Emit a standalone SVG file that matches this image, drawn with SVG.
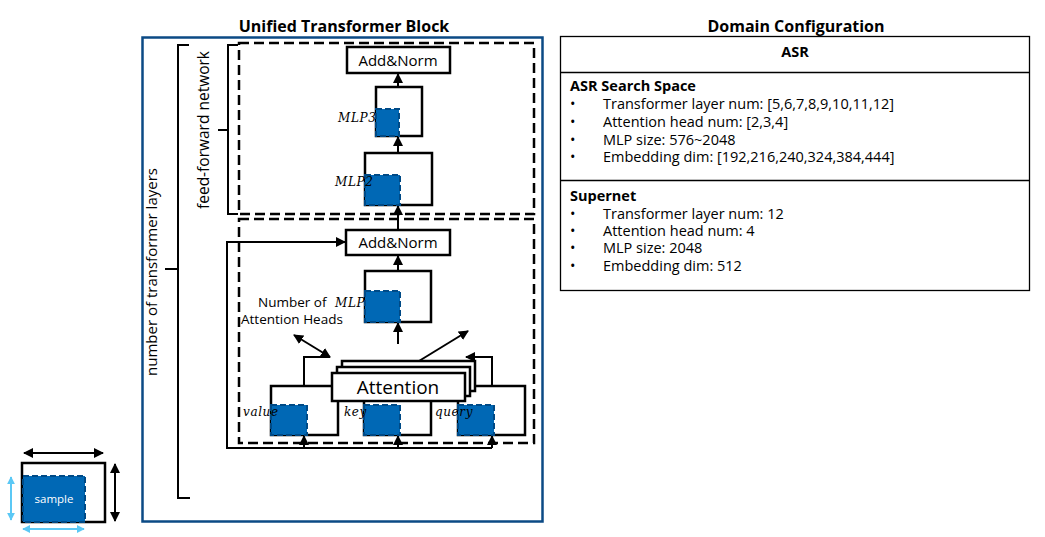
<svg xmlns="http://www.w3.org/2000/svg" width="1045" height="537" viewBox="0 0 1045 537">
<style>
text{font-family:"Open Sans","Liberation Sans",sans-serif;fill:#000}
.title{font-weight:bold;font-size:16px;text-anchor:middle}
.t{font-size:14.5px}
.b{font-weight:bold}
.box{fill:#fff;stroke:#000;stroke-width:2.5}
.blue{fill:#0068b5;stroke:#004a86;stroke-width:2;stroke-dasharray:6 3}
.dash{fill:none;stroke:#000;stroke-width:2.5;stroke-dasharray:10 5}
.ln{fill:none;stroke:#000;stroke-width:2}
.math{font-family:"DejaVu Serif","Liberation Serif",serif;font-style:italic;font-size:12px;letter-spacing:0.6px}
.cen{text-anchor:middle}
</style>
<defs>
<marker id="ah" viewBox="0 0 10 10" refX="9" refY="5" markerWidth="5" markerHeight="5" orient="auto-start-reverse" markerUnits="strokeWidth"><path d="M0,0 L10,5 L0,10 z" fill="#000"/></marker>
<marker id="ahl" viewBox="0 0 10 10" refX="9" refY="5" markerWidth="4" markerHeight="4" orient="auto-start-reverse" markerUnits="strokeWidth"><path d="M0,0 L10,5 L0,10 z" fill="#5bc8f5"/></marker>
</defs>
<rect width="1045" height="537" fill="#fff"/>

<text class="title" x="344" y="32">Unified Transformer Block</text>
<text class="title" x="796" y="32">Domain Configuration</text>

<g id="outer-block">
<rect x="142.5" y="37.5" width="400" height="484" fill="none" stroke="#0b4a85" stroke-width="2.5"/>
</g>

<g id="braces">
<path class="ln" d="M189,45 H178 V269 H165 M178,269 V498 H190"/>
<path class="ln" d="M238,45 H228 V130 H218 M228,130 V214 H238"/>
<text transform="translate(157,272) rotate(-90)" text-anchor="middle" font-size="15">number of  transformer layers</text>
<text transform="translate(209,130) rotate(-90)" text-anchor="middle" font-size="15.5">feed-forward network</text>
</g>

<g id="ffn-region"><rect class="dash" x="239" y="43" width="295" height="171"/></g>
<g id="attn-region"><rect class="dash" x="239" y="219" width="295" height="224"/></g>

<g id="connectors">
<line class="ln" x1="398" y1="87" x2="398" y2="74" marker-end="url(#ah)"/>
<line class="ln" x1="398" y1="153" x2="398" y2="137" marker-end="url(#ah)"/>
<line class="ln" x1="398" y1="230" x2="398" y2="206" marker-end="url(#ah)"/>
<line class="ln" x1="398" y1="271" x2="398" y2="256" marker-end="url(#ah)"/>
<line class="ln" x1="398" y1="344" x2="398" y2="323" marker-end="url(#ah)"/>
<path class="ln" d="M492,448 H227 V242 H345" marker-end="url(#ah)"/>
<line class="ln" x1="304" y1="448" x2="304" y2="436" marker-end="url(#ah)"/>
<line class="ln" x1="398" y1="448" x2="398" y2="436" marker-end="url(#ah)"/>
<line class="ln" x1="492" y1="448" x2="492" y2="436" marker-end="url(#ah)"/>
<path class="ln" d="M304,386 V357 H330"/>
<path class="ln" d="M492,386 V357 H466" marker-end="url(#ah)"/>
<line class="ln" x1="294" y1="335" x2="330" y2="357" marker-start="url(#ah)" marker-end="url(#ah)"/>
<line class="ln" x1="419" y1="361" x2="468" y2="331" marker-end="url(#ah)"/>
</g>

<g id="add-norm-top">
<rect class="box" x="347" y="47" width="103" height="26"/>
<text class="cen" font-size="15" x="398" y="65.5">Add&amp;Norm</text>
</g>
<g id="mlp3">
<rect class="box" x="376" y="87" width="46" height="49"/>
<rect class="blue" x="376" y="109" width="23" height="27"/>
<text class="math" x="338" y="122">MLP3</text>
</g>
<g id="mlp2">
<rect class="box" x="365" y="153" width="67" height="52"/>
<rect class="blue" x="365" y="175" width="35" height="30"/>
<text class="math" x="335" y="186">MLP2</text>
</g>
<g id="add-norm-bottom">
<rect class="box" x="346" y="230" width="104" height="25"/>
<text class="cen" font-size="15" x="398" y="248">Add&amp;Norm</text>
</g>
<g id="mlp">
<rect class="box" x="365" y="271" width="66" height="51"/>
<rect class="blue" x="365" y="291" width="35" height="31"/>
<text class="math" x="335" y="307">MLP</text>
</g>
<g id="heads-label">
<text font-size="13.5" x="258" y="307">Number of</text>
<text font-size="13.5" x="241" y="324">Attention Heads</text>
</g>
<g id="value">
<rect class="box" x="271" y="386" width="67" height="49"/>
<rect class="blue" x="271" y="405" width="36" height="30"/>
<text class="math" font-size="10" x="243" y="416">value</text>
</g>
<g id="key">
<rect class="box" x="364" y="386" width="67" height="49"/>
<rect class="blue" x="364" y="405" width="36" height="30"/>
<text class="math" font-size="10" x="344" y="416">key</text>
</g>
<g id="query">
<rect class="box" x="458" y="386" width="67" height="49"/>
<rect class="blue" x="458" y="405" width="36" height="30"/>
<text class="math" font-size="10" x="435" y="416">query</text>
</g>
<g id="attention">
<rect class="box" x="342" y="361" width="133" height="30"/>
<rect class="box" x="337" y="367" width="133" height="29"/>
<rect class="box" x="332" y="373" width="133" height="28"/>
<text class="cen" font-size="19" x="398" y="394">Attention</text>
</g>

<g id="legend">
<rect class="box" x="22" y="463" width="83" height="59"/>
<rect class="blue" x="23" y="476" width="62" height="46"/>
<text class="cen" font-size="11.5" x="54" y="503" style="fill:#fff">sample</text>
<line class="ln" x1="24" y1="453" x2="103" y2="453" marker-start="url(#ah)" marker-end="url(#ah)"/>
<line class="ln" x1="115" y1="464" x2="115" y2="521" marker-start="url(#ah)" marker-end="url(#ah)"/>
<line x1="11" y1="477" x2="11" y2="520" stroke="#5bc8f5" stroke-width="2" marker-start="url(#ahl)" marker-end="url(#ahl)"/>
<line x1="23" y1="529" x2="84" y2="529" stroke="#5bc8f5" stroke-width="2" marker-start="url(#ahl)" marker-end="url(#ahl)"/>
</g>

<g id="config-table">
<rect x="560.5" y="36.5" width="469" height="254" fill="none" stroke="#000" stroke-width="1.3"/>
<line x1="560" y1="72.5" x2="1030" y2="72.5" stroke="#000" stroke-width="1.3"/>
<line x1="560" y1="180.5" x2="1030" y2="180.5" stroke="#000" stroke-width="1.3"/>
<text class="t b cen" x="795" y="57">ASR</text>
<text class="t b" x="570" y="91">ASR Search Space</text>
<text class="t" x="570" y="109">•</text><text class="t" x="603" y="109">Transformer layer num: [5,6,7,8,9,10,11,12]</text>
<text class="t" x="570" y="127">•</text><text class="t" x="603" y="127">Attention head num: [2,3,4]</text>
<text class="t" x="570" y="145">•</text><text class="t" x="603" y="145">MLP size: 576~2048</text>
<text class="t" x="570" y="162">•</text><text class="t" x="603" y="162">Embedding dim: [192,216,240,324,384,444]</text>
<text class="t b" x="570" y="201">Supernet</text>
<text class="t" x="570" y="219">•</text><text class="t" x="603" y="219">Transformer layer num: 12</text>
<text class="t" x="570" y="236">•</text><text class="t" x="603" y="236">Attention head num: 4</text>
<text class="t" x="570" y="253">•</text><text class="t" x="603" y="253">MLP size: 2048</text>
<text class="t" x="570" y="271">•</text><text class="t" x="603" y="271">Embedding dim: 512</text>
</g>
</svg>
